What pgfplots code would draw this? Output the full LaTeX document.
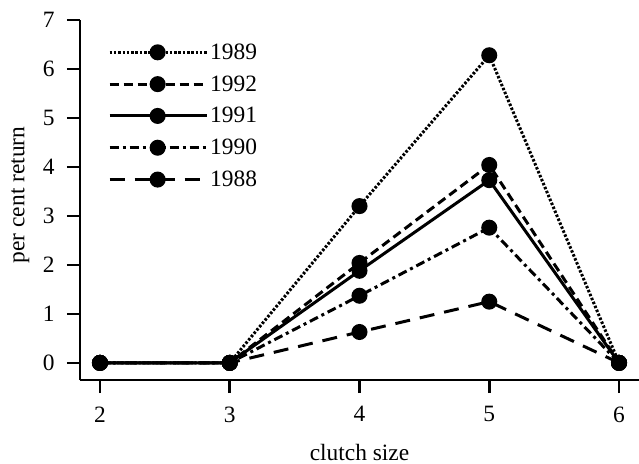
\documentclass[border=0pt]{standalone}
\usepackage{fontspec}
\setmainfont{Liberation Serif}
\usepackage{pgfplots}
\pgfplotsset{compat=1.18}

\newcommand{\fs}{\fontsize{23.5}{27}\selectfont}

\begin{document}
\begin{tikzpicture}
\begin{axis}[
    name=ax,
    scale only axis,
    width=559bp, height=360bp,
    xmin=1.846, xmax=6.154,
    ymin=-0.35, ymax=7,
    axis lines*=left,
    axis line style={-, line width=2.5bp},
    xtick={2,3,4,5,6},
    ytick={0,1,2,3,4,5,6,7},
    tick align=outside,
    major tick length=13bp,
    tick style={line width=2.5bp, black},
    yticklabel shift=9bp,
    xticklabel shift=10bp,
    /pgf/number format/assume math mode=true,
    ticklabel style={font=\fs},
    xlabel={clutch size},
    ylabel={per cent return},
    label style={font=\fs},
    xlabel style={at={(axis description cs:0.5,-0.2)}, anchor=center},
    ylabel style={at={(axis description cs:-0.107,0.514)}, anchor=center},
    legend style={draw=none, fill=none, at={(axis description cs:0.05,0.94)},
      anchor=north west, font=\fs,
      row sep=10.8bp, inner sep=0pt, cells={anchor=west}},
    legend image code/.code={%
      \draw[mark repeat=2,mark phase=2,#1] plot coordinates {(0bp,0bp) (48bp,0bp) (97bp,0bp)};},
    every axis plot/.append style={black, line width=3bp, mark=*, mark size=6.5bp, mark options={solid}},
]
\addplot[dash pattern=on 2.5bp off 1.8bp] coordinates {(2,0) (3,0) (4,3.2) (5,6.28) (6,0)};
\addlegendentry{1989}
\addplot[dash pattern=on 9bp off 5bp] coordinates {(2,0) (3,0) (4,2.04) (5,4.04) (6,0)};
\addlegendentry{1992}
\addplot[solid] coordinates {(2,0) (3,0) (4,1.88) (5,3.73) (6,0)};
\addlegendentry{1991}
\addplot[dash pattern=on 9bp off 4bp on 3bp off 4bp] coordinates {(2,0) (3,0) (4,1.37) (5,2.76) (6,0)};
\addlegendentry{1990}
\addplot[dash pattern=on 15bp off 10bp] coordinates {(2,0) (3,0) (4,0.63) (5,1.25) (6,0)};
\addlegendentry{1988}
\end{axis}
\pgfresetboundingbox
\path[use as bounding box] ([shift={(-80bp,-84bp)}]ax.south west) rectangle ([shift={(0bp,20bp)}]ax.north east);
\end{tikzpicture}
\end{document}
